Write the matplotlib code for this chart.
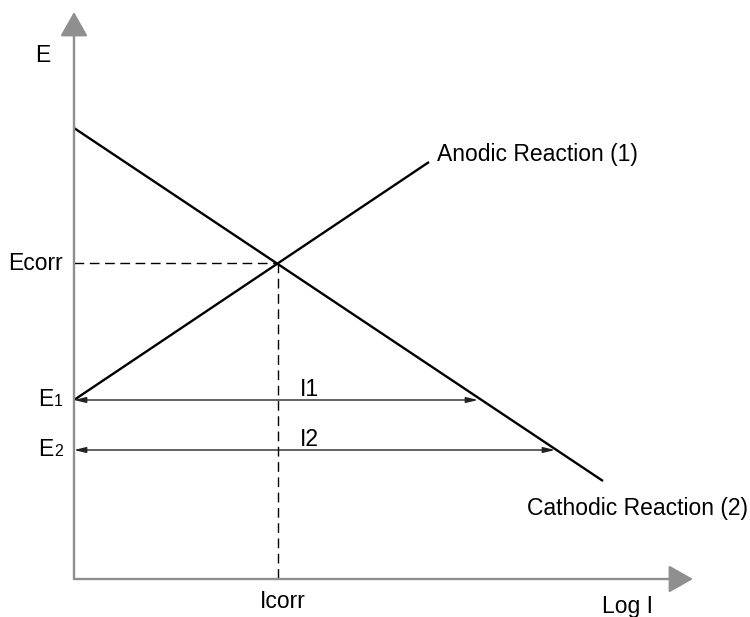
import matplotlib as mp
import matplotlib.pyplot as plt

mp.rcParams['font.family'] = ['Liberation Sans', 'DejaVu Sans']

# Diagrama d'Evans: rectes de Tafel (unitats arbitràries, x = log I, y = E)
anodic_x = [0, 355]
anodic_E = [179, 417]
cathodic_x = [0, 529]
cathodic_E = [451, 98]

E_corr = 316
I_corr = 204

E_levels = [179, 129]          # E1, E2
I_ends = [404, 481]            # on les fletxes toquen la recta catòdica
E_names = ['1', '2']

axis_len_x = 619
axis_len_y = 567

grey = '#8f8f8f'
fs = 16.5

fig = plt.figure(figsize=(7.5, 6.17), dpi=100)
ax = fig.add_axes([0, 0, 1, 1])
ax.set_xlim(-74, 676)
ax.set_ylim(-38, 579)
ax.axis('off')

# eixos amb fletxa
for tip in [(axis_len_x, 0), (0, axis_len_y)]:
    ax.annotate('', xy=tip, xytext=(0, 0),
                arrowprops=dict(arrowstyle='-|>,head_length=1.5,head_width=0.85',
                                mutation_scale=10, color=grey, lw=1.7,
                                shrinkA=0, shrinkB=0))

# rectes anòdica i catòdica
ax.plot(anodic_x, anodic_E, color='black', lw=1.7, solid_capstyle='butt')
ax.plot(cathodic_x, cathodic_E, color='black', lw=1.7, solid_capstyle='butt')

# punt de corrosió
ax.plot([0, I_corr], [E_corr, E_corr], color='black', lw=1.0,
        dashes=(7, 4))
ax.plot([I_corr, I_corr], [E_corr, 0], color='black', lw=1.0,
        dashes=(7, 4))

# fletxes I1, I2
for E, Iend, nm in zip(E_levels, I_ends, E_names):
    ax.annotate('', xy=(Iend, E), xytext=(0, E),
                arrowprops=dict(arrowstyle='<|-|>,head_length=0.7,head_width=0.17',
                                mutation_scale=10, color='#222222', lw=1.0,
                                shrinkA=0, shrinkB=0))
    ax.text(-21, E, 'E', fontsize=fs, ha='right', va='center')
    ax.text(-20, E - 1, nm, fontsize=fs * 0.7, ha='left', va='center')
    ax.text(I_corr + 22, E + 11, 'I' + nm, fontsize=fs, ha='left', va='center')

ax.text(-39, 524, 'E', fontsize=fs, ha='left', va='center')
ax.text(-11, E_corr, 'Ecorr', fontsize=fs, ha='right', va='center')
ax.text(I_corr + 5, -22, 'Icorr', fontsize=fs, ha='center', va='center')
ax.text(528, -28, 'Log I', fontsize=fs, ha='left', va='center')
ax.text(anodic_x[1] + 8, anodic_E[1] + 7, 'Anodic Reaction (1)', fontsize=fs,
        ha='left', va='center')
ax.text(453, 71, 'Cathodic Reaction (2)', fontsize=fs, ha='left', va='center')

fig.savefig('out.png', dpi=100)
